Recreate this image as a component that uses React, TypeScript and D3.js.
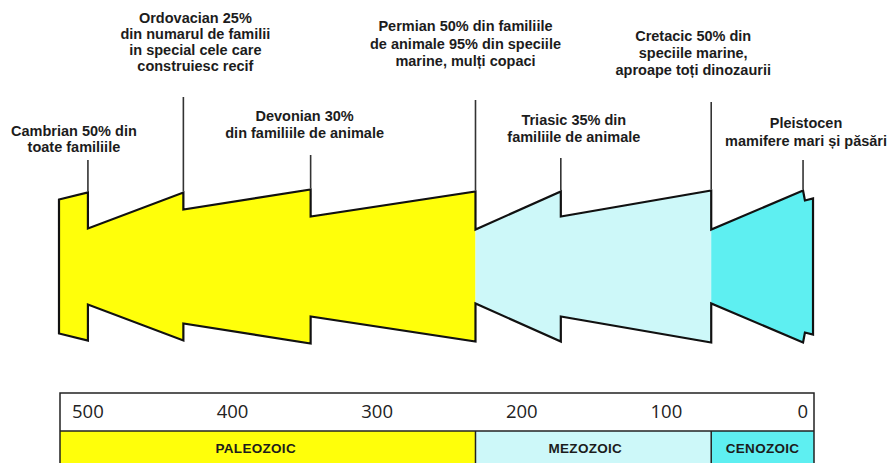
import React from 'react';
import * as d3 from 'd3';

// ---- data ----
const eventNames = ['Cambrian', 'Ordovacian', 'Devonian', 'Permian', 'Triasic', 'Cretacic', 'Pleistocen'];
const eventTimes = [500, 434, 346, 232, 173, 69, 5.5]; // million years ago
const notchTimes = [500, 434, 346, 232, 173, 69, 4.2];
const spikeWidth = [74, 74, 77, 75, 75, 76, 76]; // relative diversity before the event
const notchWidth = [38, 57, 50, 37, 50, 37, 66]; // relative diversity after the event
const startTime = 520;
const startWidth = 67;
const endTime = -1.4;
const endWidth = 68;

const eventLabels = [
  ['Cambrian 50% din', 'toate familiile'],
  ['Ordovacian 25%', 'din numarul de familii', 'in special cele care', 'construiesc recif'],
  ['Devonian 30%', 'din familiile de animale'],
  ['Permian 50% din familiile', 'de animale 95% din speciile', 'marine, mulți copaci'],
  ['Triasic 35% din', 'familiile de animale'],
  ['Cretacic 50% din', 'speciile marine,', 'aproape toți dinozaurii'],
  ['Pleistocen', 'mamifere mari și păsări'],
];

const tickValues = [500, 400, 300, 200, 100, 0];

const eraNames = ['PALEOZOIC', 'MEZOZOIC', 'CENOZOIC'];
const eraStart = [520, 232, 69];
const eraEnd = [232, 69, 0];
const eraColors = ['#FFFF0A', '#CDF8F9', '#5EEFF1'];

// ---- layout (not data) ----
const labelLayout = [
  { dx: -14, y: 136, lead: 16, lineTop: 160 },
  { dx: 12, y: 23, lead: 16, lineTop: 97 },
  { dx: -6, y: 121, lead: 16.5, lineTop: 155 },
  { dx: -10, y: 31, lead: 17.5, lineTop: 100 },
  { dx: 13, y: 125, lead: 17, lineTop: 158 },
  { dx: -18, y: 41, lead: 17, lineTop: 102 },
  { dx: 3, y: 128, lead: 18, lineTop: 160 },
];

const W = 890;
const H = 463;
const boxLeft = 60;
const boxRight = 814;
const boxTop = 393;
const headerBottom = 431;
const boxBottom = 475;

export default function App() {
  const x = d3.scaleLinear().domain([520, 0]).range([59, 811]);
  const y = d3.scaleLinear().domain([-80, 80]).range([346.5, 186.5]);

  const top: [number, number][] = [[startTime, startWidth]];
  eventTimes.forEach((t, i) => {
    top.push([t, spikeWidth[i]]);
    top.push([notchTimes[i], notchWidth[i]]);
  });
  top.push([endTime, endWidth]);
  const bottom = top.map(([t, w]) => [t, -w] as [number, number]).reverse();
  const pts = [...top, ...bottom];
  const line = d3
    .line<[number, number]>()
    .x((d) => x(d[0]))
    .y((d) => y(d[1]));
  const shapePath = line(pts) + 'Z';

  const font = "'Liberation Sans', Arial, Helvetica, sans-serif";

  return (
    <svg width={W} height={H} style={{ position: 'absolute', left: 0, top: 0, background: '#fff' }}>
      <defs>
        {eraNames.map((n, i) => (
          <clipPath id={`clip-${i}`} key={n}>
            <rect
              x={i === 0 ? 0 : x(eraStart[i])}
              y={0}
              width={(i === eraNames.length - 1 ? W : x(eraEnd[i])) - (i === 0 ? 0 : x(eraStart[i]))}
              height={H}
            />
          </clipPath>
        ))}
      </defs>

      {/* main shape */}
      {eraNames.map((n, i) => (
        <path key={n} d={shapePath} fill={eraColors[i]} clipPath={`url(#clip-${i})`} />
      ))}
      <path d={shapePath} fill="none" stroke="#111" strokeWidth={2.2} strokeLinejoin="miter" />

      {/* event lines and labels */}
      {eventNames.map((n, i) => {
        const lay = labelLayout[i];
        const ex = x(eventTimes[i]);
        return (
          <g key={n}>
            <line x1={ex} x2={ex} y1={lay.lineTop} y2={y(spikeWidth[i]) - 1} stroke="#333" strokeWidth={1.6} />
            <text
              x={ex + lay.dx}
              y={lay.y}
              textAnchor="middle"
              fontFamily={font}
              fontWeight="bold"
              fontSize={14.5}
              fill="#1c1c1c"
            >
              {eventLabels[i].map((s, j) => (
                <tspan key={j} x={ex + lay.dx} y={lay.y + j * lay.lead}>
                  {s}
                </tspan>
              ))}
            </text>
          </g>
        );
      })}

      {/* time axis box */}
      {eraNames.map((n, i) => {
        const x0 = i === 0 ? boxLeft : x(eraStart[i]);
        const x1 = i === eraNames.length - 1 ? boxRight : x(eraEnd[i]);
        return (
          <g key={n}>
            <rect x={x0} y={headerBottom} width={x1 - x0} height={boxBottom - headerBottom} fill={eraColors[i]} />
            <text
              x={(x0 + x1) / 2 - (i === 0 ? 12 : i === 1 ? 8 : 0)}
              y={453}
              textAnchor="middle"
              fontFamily={font}
              fontWeight="bold"
              fontSize={13.5}
              letterSpacing={0.3}
              fill="#1c1c1c"
            >
              {n}
            </text>
            {i > 0 && <line x1={x0} x2={x0} y1={headerBottom} y2={boxBottom} stroke="#222" strokeWidth={1.5} />}
          </g>
        );
      })}
      <rect
        x={boxLeft}
        y={boxTop}
        width={boxRight - boxLeft}
        height={boxBottom - boxTop}
        fill="none"
        stroke="#222"
        strokeWidth={1.5}
      />
      <line x1={boxLeft} x2={boxRight} y1={headerBottom} y2={headerBottom} stroke="#222" strokeWidth={1.5} />
      {tickValues.map((t, i) => {
        const last = i === tickValues.length - 1;
        return (
          <text
            key={t}
            x={last ? boxRight - 6 : x(t)}
            y={418}
            textAnchor={last ? 'end' : 'middle'}
            fontFamily="'Open Sans', 'Liberation Sans', sans-serif"
            fontSize={18.5}
            fill="#222"
          >
            {t}
          </text>
        );
      })}
    </svg>
  );
}
